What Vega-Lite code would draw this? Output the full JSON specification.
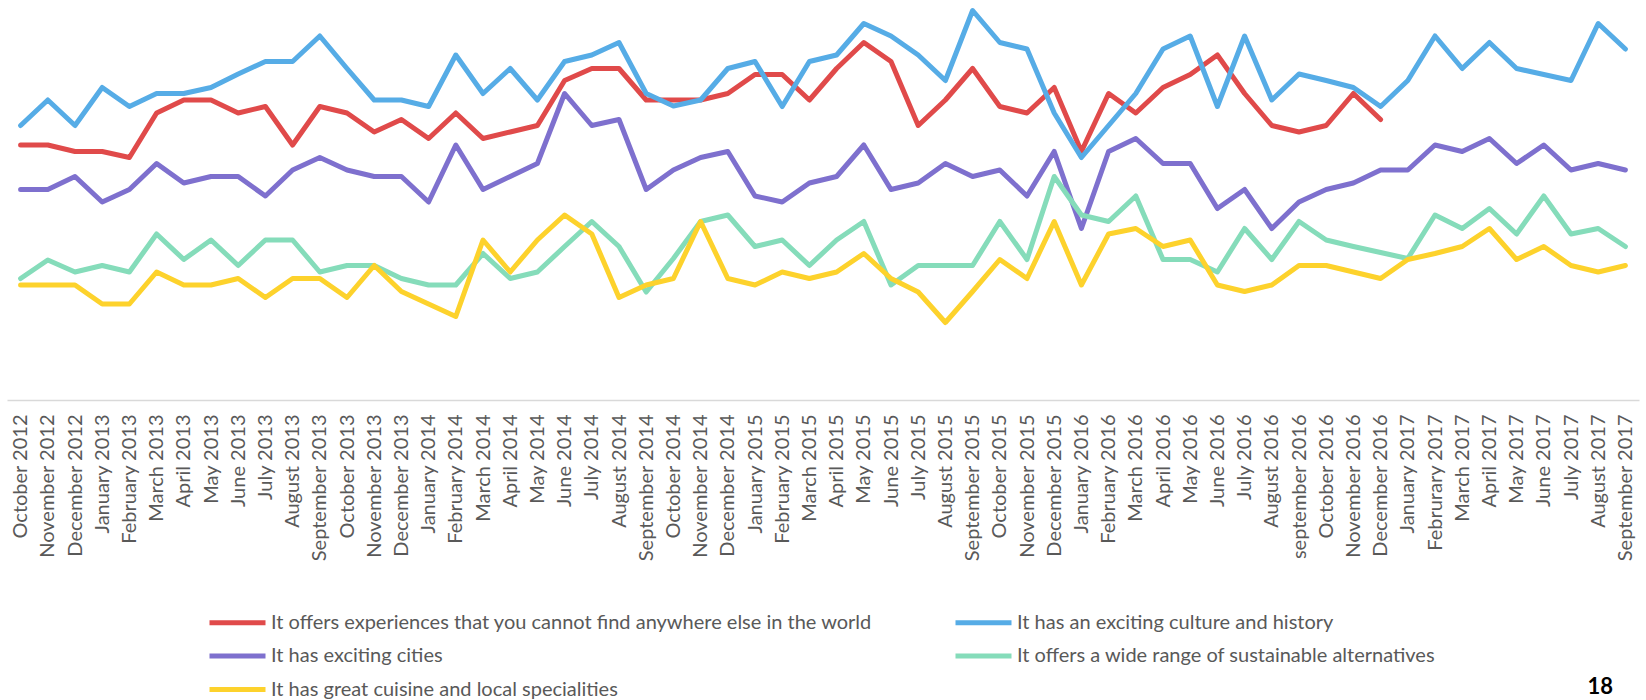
{
  "$schema": "https://vega.github.io/schema/vega-lite/v6.json",
  "autosize": "none",
  "width": 1632,
  "height": 400,
  "padding": {"left": 7, "top": 0, "right": 7, "bottom": 300},
  "background": "white",
  "config": {"view": {"stroke": null}, "font": "Lato"},
  "title": {
    "text": "18",
    "orient": "bottom",
    "anchor": "end",
    "frame": "group",
    "fontSize": 22,
    "fontWeight": "bold",
    "color": "#000000",
    "font": "Lato",
    "offset": -23,
    "dx": -26
  },
  "data": {
    "values": [
      {"m": "October 2012", "s1": 51.0, "s2": 54.9, "s3": 42.1, "s4": 24.3, "s5": 23.0},
      {"m": "November 2012", "s1": 51.0, "s2": 60.0, "s3": 42.1, "s4": 28.0, "s5": 23.0},
      {"m": "December 2012", "s1": 49.7, "s2": 54.9, "s3": 44.7, "s4": 25.6, "s5": 23.0},
      {"m": "January 2013", "s1": 49.7, "s2": 62.5, "s3": 39.6, "s4": 26.9, "s5": 19.2},
      {"m": "February 2013", "s1": 48.5, "s2": 58.7, "s3": 42.1, "s4": 25.6, "s5": 19.2},
      {"m": "March 2013", "s1": 57.4, "s2": 61.3, "s3": 47.3, "s4": 33.2, "s5": 25.6},
      {"m": "April 2013", "s1": 60.0, "s2": 61.3, "s3": 43.4, "s4": 28.1, "s5": 23.0},
      {"m": "May 2013", "s1": 60.0, "s2": 62.5, "s3": 44.7, "s4": 32.0, "s5": 23.0},
      {"m": "June 2013", "s1": 57.4, "s2": 65.2, "s3": 44.7, "s4": 26.9, "s5": 24.3},
      {"m": "July 2013", "s1": 58.7, "s2": 67.7, "s3": 40.8, "s4": 32.0, "s5": 20.5},
      {"m": "August 2013", "s1": 51.0, "s2": 67.7, "s3": 46.0, "s4": 32.0, "s5": 24.3},
      {"m": "September 2013", "s1": 58.7, "s2": 72.8, "s3": 48.5, "s4": 25.6, "s5": 24.3},
      {"m": "October 2013", "s1": 57.4, "s2": 66.3, "s3": 46.0, "s4": 26.9, "s5": 20.5},
      {"m": "November 2013", "s1": 53.6, "s2": 60.0, "s3": 44.7, "s4": 26.9, "s5": 26.9},
      {"m": "December 2013", "s1": 56.1, "s2": 60.0, "s3": 44.7, "s4": 24.3, "s5": 21.7},
      {"m": "January 2014", "s1": 52.3, "s2": 58.7, "s3": 39.6, "s4": 23.0, "s5": 19.2},
      {"m": "February 2014", "s1": 57.4, "s2": 69.0, "s3": 51.0, "s4": 23.0, "s5": 16.7},
      {"m": "March 2014", "s1": 52.3, "s2": 61.3, "s3": 42.1, "s4": 29.3, "s5": 32.0},
      {"m": "April 2014", "s1": 53.6, "s2": 66.3, "s3": 44.7, "s4": 24.3, "s5": 25.6},
      {"m": "May 2014", "s1": 54.9, "s2": 60.0, "s3": 47.3, "s4": 25.6, "s5": 32.0},
      {"m": "June 2014", "s1": 63.9, "s2": 67.7, "s3": 61.3, "s4": 30.7, "s5": 37.0},
      {"m": "July 2014", "s1": 66.3, "s2": 69.0, "s3": 54.9, "s4": 35.7, "s5": 33.2},
      {"m": "August 2014", "s1": 66.3, "s2": 71.5, "s3": 56.1, "s4": 30.7, "s5": 20.5},
      {"m": "September 2014", "s1": 60.0, "s2": 61.3, "s3": 42.1, "s4": 21.6, "s5": 23.0},
      {"m": "October 2014", "s1": 60.0, "s2": 58.8, "s3": 46.0, "s4": 28.3, "s5": 24.3},
      {"m": "November 2014", "s1": 60.0, "s2": 60.0, "s3": 48.5, "s4": 35.7, "s5": 35.7},
      {"m": "December 2014", "s1": 61.3, "s2": 66.3, "s3": 49.7, "s4": 37.0, "s5": 24.3},
      {"m": "January 2015", "s1": 65.1, "s2": 67.7, "s3": 40.8, "s4": 30.7, "s5": 23.0},
      {"m": "February 2015", "s1": 65.1, "s2": 58.7, "s3": 39.6, "s4": 32.0, "s5": 25.6},
      {"m": "March 2015", "s1": 60.0, "s2": 67.7, "s3": 43.4, "s4": 26.9, "s5": 24.3},
      {"m": "April 2015", "s1": 66.3, "s2": 69.0, "s3": 44.7, "s4": 32.0, "s5": 25.6},
      {"m": "May 2015", "s1": 71.5, "s2": 75.3, "s3": 51.0, "s4": 35.7, "s5": 29.3},
      {"m": "June 2015", "s1": 67.7, "s2": 72.8, "s3": 42.1, "s4": 23.0, "s5": 24.3},
      {"m": "July 2015", "s1": 54.9, "s2": 69.0, "s3": 43.4, "s4": 26.9, "s5": 21.6},
      {"m": "August 2015", "s1": 60.0, "s2": 63.9, "s3": 47.3, "s4": 26.9, "s5": 15.5},
      {"m": "September 2015", "s1": 66.3, "s2": 77.9, "s3": 44.7, "s4": 26.9, "s5": 21.7},
      {"m": "October 2015", "s1": 58.7, "s2": 71.5, "s3": 46.0, "s4": 35.7, "s5": 28.1},
      {"m": "November 2015", "s1": 57.4, "s2": 70.2, "s3": 40.8, "s4": 28.1, "s5": 24.3},
      {"m": "December 2015", "s1": 62.5, "s2": 57.4, "s3": 49.7, "s4": 44.7, "s5": 35.7},
      {"m": "January 2016", "s1": 49.7, "s2": 48.5, "s3": 34.3, "s4": 37.0, "s5": 23.0},
      {"m": "February 2016", "s1": 61.3, "s2": 54.9, "s3": 49.7, "s4": 35.7, "s5": 33.2},
      {"m": "March 2016", "s1": 57.4, "s2": 61.3, "s3": 52.3, "s4": 40.8, "s5": 34.3},
      {"m": "April 2016", "s1": 62.5, "s2": 70.2, "s3": 47.3, "s4": 28.1, "s5": 30.7},
      {"m": "May 2016", "s1": 65.1, "s2": 72.8, "s3": 47.3, "s4": 28.1, "s5": 32.0},
      {"m": "June 2016", "s1": 69.0, "s2": 58.7, "s3": 38.3, "s4": 25.6, "s5": 23.0},
      {"m": "July 2016", "s1": 61.3, "s2": 72.8, "s3": 42.1, "s4": 34.3, "s5": 21.7},
      {"m": "August 2016", "s1": 54.9, "s2": 60.0, "s3": 34.3, "s4": 28.1, "s5": 23.0},
      {"m": "september 2016", "s1": 53.6, "s2": 65.2, "s3": 39.6, "s4": 35.7, "s5": 26.9},
      {"m": "October 2016", "s1": 54.9, "s2": 63.9, "s3": 42.1, "s4": 32.0, "s5": 26.9},
      {"m": "November 2016", "s1": 61.3, "s2": 62.5, "s3": 43.4, "s4": 30.7, "s5": 25.6},
      {"m": "December 2016", "s1": 56.1, "s2": 58.7, "s3": 46.0, "s4": 29.5, "s5": 24.3},
      {"m": "January 2017", "s1": null, "s2": 63.9, "s3": 46.0, "s4": 28.3, "s5": 28.1},
      {"m": "Februrary 2017", "s1": null, "s2": 72.8, "s3": 51.0, "s4": 37.0, "s5": 29.3},
      {"m": "March 2017", "s1": null, "s2": 66.3, "s3": 49.7, "s4": 34.3, "s5": 30.7},
      {"m": "April 2017", "s1": null, "s2": 71.5, "s3": 52.3, "s4": 38.3, "s5": 34.3},
      {"m": "May 2017", "s1": null, "s2": 66.3, "s3": 47.3, "s4": 33.2, "s5": 28.1},
      {"m": "June 2017", "s1": null, "s2": 65.1, "s3": 51.0, "s4": 40.8, "s5": 30.7},
      {"m": "July 2017", "s1": null, "s2": 63.9, "s3": 46.0, "s4": 33.2, "s5": 26.9},
      {"m": "August 2017", "s1": null, "s2": 75.3, "s3": 47.3, "s4": 34.3, "s5": 25.6},
      {"m": "September 2017", "s1": null, "s2": 70.2, "s3": 46.0, "s4": 30.7, "s5": 26.9}
    ]
  },
  "transform": [
    {"fold": ["s1", "s2", "s3", "s4", "s5"], "as": ["series", "value"]}
  ],
  "mark": {"type": "line", "strokeWidth": 5, "strokeCap": "round", "strokeJoin": "round"},
  "encoding": {
    "x": {
      "field": "m",
      "type": "nominal",
      "sort": null,
      "scale": {"type": "point", "padding": 0.5},
      "axis": {
        "title": null,
        "labelAngle": -90,
        "labelFont": "Lato",
        "labelFontSize": 20,
        "labelColor": "#595959",
        "labelPadding": 14,
        "labelLimit": 300,
        "labelOverlap": false,
        "ticks": false,
        "grid": false,
        "domainColor": "#D9D9D9",
        "domainWidth": 1.5
      }
    },
    "y": {
      "field": "value",
      "type": "quantitative",
      "scale": {"domain": [0, 80], "nice": false},
      "axis": null
    },
    "color": {
      "field": "series",
      "type": "nominal",
      "scale": {
        "domain": ["s1", "s3", "s5", "s2", "s4"],
        "range": ["#E04A4A", "#7E70CE", "#FDD22C", "#56ACE6", "#85DCBA"]
      },
      "legend": {
        "title": null,
        "orient": "none",
        "legendX": 200,
        "legendY": 606,
        "columns": 2,
        "columnPadding": 72,
        "rowPadding": 6.5,
        "symbolType": "M-1,0H3",
        "symbolSize": 784,
        "symbolStrokeWidth": 5,
        "symbolStrokeCap": "round",
        "labelFont": "Lato",
        "labelFontSize": 20,
        "labelColor": "#595959",
        "labelOffset": 31,
        "labelLimit": 800,
        "labelExpr": "{'s1': 'It offers experiences that you cannot find anywhere else in the world', 's2': 'It has an exciting culture and history', 's3': 'It has exciting cities', 's4': 'It offers a wide range of sustainable alternatives', 's5': 'It has great cuisine and local specialities'}[datum.value]"
      }
    }
  }
}
